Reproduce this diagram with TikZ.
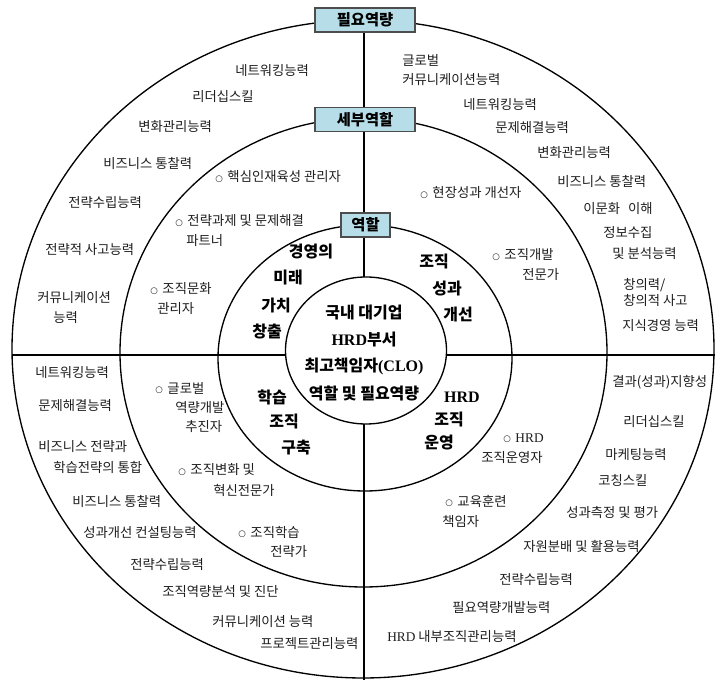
\documentclass[tikz,border=0pt]{standalone}
\usepackage{fontspec}
\setmainfont{Noto Sans CJK KR}
\newfontfamily\lat{Liberation Serif}
\newfontfamily\dejavu{DejaVu Sans}
\usetikzlibrary{shapes.geometric}
\definecolor{boxfill}{HTML}{B7DEE8}
\definecolor{boxline}{HTML}{4D4D4D}
\definecolor{txt}{HTML}{1E1E1E}
\newcommand\ringmark{{\dejavu\fontsize{6.5}{6}\selectfont\raisebox{0.6pt}{○}}\hspace{0.35em}}
\begin{document}
\begin{tikzpicture}[x=0.75pt,y=-0.75pt,
  ring/.style={ellipse, draw=black, line width=1pt, inner sep=0pt, outer sep=0pt},
  divline/.style={draw=black, line width=1pt},
  stagebox/.style={draw=boxline, fill=boxfill, line width=0.8pt, inner sep=0pt,
     minimum height=18pt, font=\bfseries\fontsize{11.5}{13}\selectfont},
  lbl/.style={anchor=west, inner sep=0pt, text=txt, font=\fontsize{10}{12}\selectfont},
  ctr/.style={inner sep=0pt, text=black, font=\bfseries\fontsize{12}{14}\selectfont}]
\useasboundingbox (0,0) rectangle (715,680);
\fill[white] (0,0) rectangle (715,680);

% rings
\node[ring, minimum width=526.5pt, minimum height=493.5pt] (outer) at (363,349) {};
\node[ring, minimum width=365.25pt, minimum height=351.75pt] (detail) at (363.5,352.5) {};
\node[ring, minimum width=220.5pt, minimum height=199.5pt] (role) at (365,358) {};
\node[ring, minimum width=120.75pt, minimum height=110.25pt] (inner) at (366,350.5) {};

% dividing lines
\coordinate (vt) at (364,8);
\coordinate (vi) at (364,277);
\coordinate (vib) at (364,424);
\coordinate (vb) at (364,680);
\coordinate (hl) at (12,355);
\coordinate (hil) at (286,355);
\coordinate (hir) at (447,355);
\coordinate (hr) at (715,355);
\draw[divline] (vt) -- (vi);
\draw[divline] (vib) -- (vb);
\draw[divline] (hl) -- (hil);
\draw[divline] (hir) -- (hr);

% ring title boxes
\node[stagebox, minimum width=75pt] (b1) at (365,20) {필요역량};
\node[stagebox, minimum width=75pt] (b2) at (365,119.5) {세부역할};
\node[stagebox, minimum width=36.75pt] (b3) at (365.5,225) {역할};

% centre
\node[ctr] (m1) at (364,313) {국내 대기업};
\node[ctr] (m2) at (364,340) {{\lat\bfseries HRD}부서};
\node[ctr] (m3) at (364,366) {최고책임자{\lat\bfseries (CLO)}};
\node[ctr] (m4) at (364,393) {역할 및 필요역량};

% roles
\node[ctr] (r1) at (311,252) {경영의};
\node[ctr] (r2) at (288,278) {미래};
\node[ctr] (r3) at (276,305) {가치};
\node[ctr] (r4) at (267,332) {창출};
\node[ctr] (r5) at (434,262) {조직};
\node[ctr] (r6) at (447,289) {성과};
\node[ctr] (r7) at (458,315) {개선};
\node[ctr] (r8) at (272,397) {학습};
\node[ctr] (r9) at (284,422) {조직};
\node[ctr] (r10) at (296,448) {구축};
\node[ctr] (r11) at (462,397) {{\lat\bfseries HRD}};
\node[ctr] (r12) at (449,420) {조직};
\node[ctr] (r13) at (439,443) {운영};

% detailed roles
\node[lbl] (d1) at (215,177) {\ringmark 핵심인재육성 관리자};
\node[lbl] (d2) at (175,221) {\ringmark 전략과제 및 문제해결};
\node[lbl] (d3) at (186,241) {파트너};
\node[lbl] (d4) at (150,289) {\ringmark 조직문화};
\node[lbl] (d5) at (157,309) {관리자};
\node[lbl] (d6) at (420,193) {\ringmark 현장성과 개선자};
\node[lbl] (d7) at (492,255) {\ringmark 조직개발};
\node[lbl] (d8) at (522,275) {전문가};
\node[lbl] (d9) at (155,388) {\ringmark 글로벌};
\node[lbl] (d10) at (175,408) {역량개발};
\node[lbl] (d11) at (185,427) {추진자};
\node[lbl] (d12) at (178,470) {\ringmark 조직변화 및};
\node[lbl] (d13) at (213,490) {혁신전문가};
\node[lbl] (d14) at (238,532) {\ringmark 조직학습};
\node[lbl] (d15) at (270,552) {전략가};
\node[lbl] (d16) at (503,438) {\ringmark {\lat HRD}};
\node[lbl] (d17) at (481,458) {조직운영자};
\node[lbl] (d18) at (445,501) {\ringmark 교육훈련};
\node[lbl] (d19) at (442,522) {책임자};

% competencies: top left
\node[lbl] (c1) at (235,71) {네트워킹능력};
\node[lbl] (c2) at (192,97) {리더십스킬};
\node[lbl] (c3) at (138,127) {변화관리능력};
\node[lbl] (c4) at (103,163) {비즈니스 통찰력};
\node[lbl] (c5) at (68,203) {전략수립능력};
\node[lbl] (c6) at (45,250) {전략적 사고능력};
\node[lbl] (c7) at (37,298) {커뮤니케이션};
\node[lbl] (c8) at (53,318) {능력};
% top right
\node[lbl] (c9) at (402,60) {글로벌};
\node[lbl] (c10) at (402,80) {커뮤니케이션능력};
\node[lbl] (c11) at (463,105) {네트워킹능력};
\node[lbl] (c12) at (495,128) {문제해결능력};
\node[lbl] (c13) at (537,153) {변화관리능력};
\node[lbl] (c14) at (557,181) {비즈니스 통찰력};
\node[lbl] (c15) at (583,209) {이문화\hspace{0.6em}이해};
\node[lbl] (c16) at (603,233) {정보수집};
\node[lbl] (c17) at (612,254) {및 분석능력};
\node[lbl] (c18) at (623,285) {창의력/};
\node[lbl] (c19) at (623,300) {창의적 사고};
\node[lbl] (c20) at (622,326) {지식경영 능력};
% bottom left
\node[lbl] (c21) at (35,373) {네트워킹능력};
\node[lbl] (c22) at (38,406) {문제해결능력};
\node[lbl] (c23) at (38,447) {비즈니스 전략과};
\node[lbl] (c24) at (53,467) {학습전략의 통합};
\node[lbl] (c25) at (72,501) {비즈니스 통찰력};
\node[lbl] (c26) at (83,533) {성과개선 컨설팅능력};
\node[lbl] (c27) at (130,565) {전략수립능력};
\node[lbl] (c28) at (162,592) {조직역량분석 및 진단};
\node[lbl] (c29) at (212,622) {커뮤니케이션 능력};
\node[lbl] (c30) at (260,644) {프로젝트관리능력};
% bottom right
\node[lbl] (c31) at (612,382) {결과(성과)지향성};
\node[lbl] (c32) at (623,422) {리더십스킬};
\node[lbl] (c33) at (605,455) {마케팅능력};
\node[lbl] (c34) at (598,480) {코칭스킬};
\node[lbl] (c35) at (566,512) {성과측정 및 평가};
\node[lbl] (c36) at (523,546) {자원분배 및 활용능력};
\node[lbl] (c37) at (499,580) {전략수립능력};
\node[lbl] (c38) at (452,608) {필요역량개발능력};
\node[lbl] (c39) at (387,637) {{\lat HRD} 내부조직관리능력};
\end{tikzpicture}
\end{document}
